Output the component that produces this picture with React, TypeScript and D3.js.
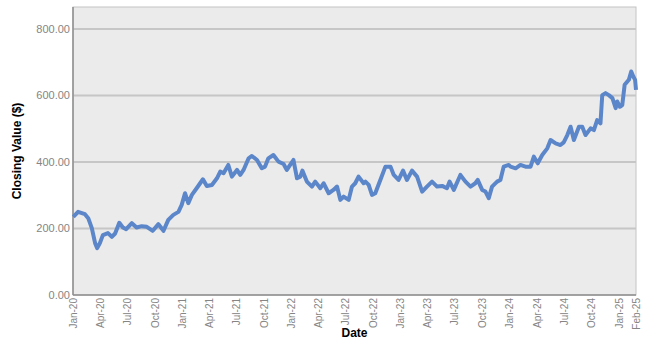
import React, { useEffect, useRef } from "react";
import * as d3 from "d3";

const dates: string[] = [
  "2020-01-02", "2020-01-18", "2020-02-10", "2020-02-21", "2020-03-04", "2020-03-15", "2020-03-22", "2020-03-31",
  "2020-04-10", "2020-04-27", "2020-05-10", "2020-05-21", "2020-06-04", "2020-06-16", "2020-06-27", "2020-07-16",
  "2020-08-01", "2020-08-18", "2020-09-04", "2020-09-24", "2020-10-13", "2020-10-30", "2020-11-15", "2020-12-02",
  "2020-12-19", "2020-12-30", "2021-01-10", "2021-01-21", "2021-02-02", "2021-02-18", "2021-03-11", "2021-03-24",
  "2021-04-10", "2021-04-27", "2021-05-08", "2021-05-19", "2021-06-04", "2021-06-16", "2021-07-03", "2021-07-14",
  "2021-07-25", "2021-08-11", "2021-08-22", "2021-09-08", "2021-09-24", "2021-10-05", "2021-10-16", "2021-11-02",
  "2021-11-19", "2021-12-06", "2021-12-17", "2021-12-28", "2022-01-08", "2022-01-20", "2022-01-31", "2022-02-07",
  "2022-02-22", "2022-03-11", "2022-03-22", "2022-04-08", "2022-04-19", "2022-05-06", "2022-05-22", "2022-06-03",
  "2022-06-14", "2022-06-25", "2022-07-12", "2022-07-23", "2022-08-03", "2022-08-14", "2022-08-31", "2022-09-06",
  "2022-09-17", "2022-09-28", "2022-10-09", "2022-10-26", "2022-11-12", "2022-11-29", "2022-12-10", "2022-12-26",
  "2023-01-10", "2023-01-23", "2023-02-09", "2023-02-26", "2023-03-15", "2023-03-31", "2023-04-17", "2023-05-04",
  "2023-05-21", "2023-06-06", "2023-06-15", "2023-06-29", "2023-07-21", "2023-08-07", "2023-08-24", "2023-09-09",
  "2023-09-17", "2023-10-02", "2023-10-13", "2023-10-24", "2023-11-04", "2023-11-21", "2023-12-02", "2023-12-13",
  "2023-12-30", "2024-01-05", "2024-01-22", "2024-02-07", "2024-02-24", "2024-03-12", "2024-03-23", "2024-04-05",
  "2024-04-20", "2024-05-07", "2024-05-18", "2024-06-04", "2024-06-20", "2024-07-01", "2024-07-13", "2024-07-24",
  "2024-08-04", "2024-08-21", "2024-09-01", "2024-09-12", "2024-09-29", "2024-10-10", "2024-10-21", "2024-11-01",
  "2024-11-07", "2024-11-18", "2024-11-29", "2024-12-11", "2024-12-22", "2024-12-27", "2025-01-05", "2025-01-13",
  "2025-01-21", "2025-02-04", "2025-02-12", "2025-02-19", "2025-02-25", "2025-02-28",
];

const closes: number[] = [
  235, 250, 243, 231, 201, 156, 141, 156,
  180, 186, 175, 185, 217, 203, 198, 216,
  203, 207, 205, 193, 213, 193, 226, 241,
  250, 271, 306, 276, 301, 321, 348, 328,
  331, 351, 371, 366, 391, 356, 376, 361,
  376, 411, 418, 406, 381, 386, 411, 421,
  401, 394, 376, 391, 406, 351, 356, 374,
  341, 326, 341, 321, 336, 306, 316, 326,
  286, 296, 286, 326, 336, 356, 336, 341,
  331, 301, 306, 346, 386, 386, 361, 346,
  374, 346, 374, 356, 311, 326, 341, 326,
  328, 321, 341, 316, 361, 341, 326, 336,
  346, 316, 311, 291, 326, 341, 346, 386,
  391, 386, 381, 391, 386, 386, 416, 396,
  421, 441, 466, 456, 451, 459, 481, 506,
  466, 506, 506, 481, 501, 496, 526, 516,
  601, 607, 601, 592, 562, 582, 566, 571,
  632, 647, 672, 657, 647, 617,
];

const yTicks: number[] = [0, 200, 400, 600, 800];
const xTickDates: string[] = [
  "2020-01-01", "2020-04-01", "2020-07-01", "2020-10-01",
  "2021-01-01", "2021-04-01", "2021-07-01", "2021-10-01",
  "2022-01-01", "2022-04-01", "2022-07-01", "2022-10-01",
  "2023-01-01", "2023-04-01", "2023-07-01", "2023-10-01",
  "2024-01-01", "2024-04-01", "2024-07-01", "2024-10-01",
  "2025-01-01", "2025-02-28",
];

export default function App() {
  const svgRef = useRef<SVGSVGElement | null>(null);

  useEffect(() => {
    const width = 656;
    const height = 343;
    const margin = { top: 7, right: 20, bottom: 48, left: 73 };
    const parse = d3.timeParse("%Y-%m-%d");
    const fmt = d3.timeFormat("%b-%y");

    const data = dates.map((d, i) => ({ date: parse(d) as Date, value: closes[i] }));

    const svg = d3.select(svgRef.current);
    svg.selectAll("*").remove();
    svg.attr("width", width).attr("height", height);

    const x = d3
      .scaleTime()
      .domain([parse("2020-01-01") as Date, parse("2025-02-28") as Date])
      .range([margin.left, width - margin.right]);

    const y = d3
      .scaleLinear()
      .domain([0, 866])
      .range([height - margin.bottom, margin.top]);

    const font = "Arial, 'Liberation Sans', sans-serif";

    // plot background
    svg
      .append("rect")
      .attr("x", margin.left)
      .attr("y", margin.top)
      .attr("width", width - margin.right - margin.left)
      .attr("height", height - margin.bottom - margin.top)
      .attr("fill", "#ebebeb")
      .attr("stroke", "#c4c4c4")
      .attr("stroke-width", 1);

    // gridlines
    svg
      .selectAll("line.grid")
      .data(yTicks.filter((t) => t > 0))
      .enter()
      .append("line")
      .attr("x1", margin.left)
      .attr("x2", width - margin.right)
      .attr("y1", (d) => y(d))
      .attr("y2", (d) => y(d))
      .attr("stroke", "#c6c6c6")
      .attr("stroke-width", 2);

    // axis lines
    svg
      .append("line")
      .attr("x1", margin.left)
      .attr("x2", margin.left)
      .attr("y1", margin.top)
      .attr("y2", y(0))
      .attr("stroke", "#8c8c8c")
      .attr("stroke-width", 1.5);
    svg
      .append("line")
      .attr("x1", margin.left)
      .attr("x2", width - margin.right)
      .attr("y1", y(0))
      .attr("y2", y(0))
      .attr("stroke", "#8c8c8c")
      .attr("stroke-width", 1.5);

    // y tick labels
    svg
      .selectAll("text.ytick")
      .data(yTicks)
      .enter()
      .append("text")
      .attr("x", margin.left - 3)
      .attr("y", (d) => y(d) + 4)
      .attr("text-anchor", "end")
      .style("font-family", font)
      .style("font-size", "11px")
      .attr("fill", "#858585")
      .text((d) => d.toFixed(2));

    // x tick labels
    svg
      .selectAll("text.xtick")
      .data(xTickDates)
      .enter()
      .append("text")
      .attr("transform", (d) => `translate(${x(parse(d) as Date) + 4},${y(0) + 3}) rotate(-90)`)
      .attr("text-anchor", "end")
      .style("font-family", font)
      .style("font-size", "10px")
      .attr("fill", "#858585")
      .text((d) => fmt(parse(d) as Date));

    // line
    const line = d3
      .line<{ date: Date; value: number }>()
      .x((d) => x(d.date))
      .y((d) => y(d.value));

    svg
      .append("path")
      .datum(data)
      .attr("d", line)
      .attr("fill", "none")
      .attr("stroke", "#5b86c9")
      .attr("stroke-width", 4)
      .attr("stroke-linejoin", "round");

    // axis titles
    svg
      .append("text")
      .attr("x", (margin.left + width - margin.right) / 2)
      .attr("y", 337)
      .attr("text-anchor", "middle")
      .style("font-family", font)
      .style("font-size", "12px")
      .style("font-weight", "bold")
      .text("Date");

    svg
      .append("text")
      .attr("transform", `translate(21,${(margin.top + y(0)) / 2}) rotate(-90)`)
      .attr("text-anchor", "middle")
      .style("font-family", font)
      .style("font-size", "12px")
      .style("font-weight", "bold")
      .text("Closing Value ($)");
  }, []);

  return (
    <svg
      ref={svgRef}
      style={{ position: "absolute", left: 0, top: 0, display: "block" }}
    ></svg>
  );
}
